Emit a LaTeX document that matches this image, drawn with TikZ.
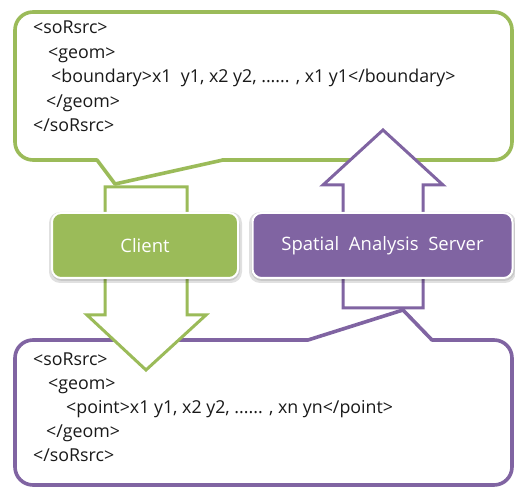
\documentclass[tikz,border=0pt]{standalone}
\usepackage{fontspec}
\setmainfont{Open Sans}
\usetikzlibrary{calc}
\definecolor{olive}{RGB}{155,187,89}
\definecolor{plum}{RGB}{128,100,162}
\definecolor{txt}{RGB}{25,25,25}
\tikzset{
  callout/.style={line width=3.6pt, fill=white, line join=round},
  blockarrow/.style={line width=3pt, fill=white, line join=miter},
  codeline/.style={anchor=base west, inner sep=0pt, text=txt, font=\fontsize{17.8}{20}\selectfont},
  boxnode/.style={draw=white, line width=2pt, rounded corners=9pt, inner sep=0pt,
    text=white, font=\fontsize{18.5}{22}\selectfont},
  boxshadow/.style={fill=black, opacity=0.12, rounded corners=11pt}
}
\begin{document}
\begin{tikzpicture}[x=1pt,y=-1pt]
\useasboundingbox (0,0) rectangle (515,489);
\fill[white] (0,0) rectangle (515,489);

% top callout (green)
\draw[callout, draw=olive]
  (230,160) -- (223,160) -- (115,184) -- (97,160) -- (90,160)
  [rounded corners=18pt] -- (15,160) -- (15,12) -- (512,12) -- (512,160) -- (240,160)
  [sharp corners] -- cycle;
% bottom callout (purple)
\draw[callout, draw=plum]
  (300,340) -- (308,340) -- (403,310) -- (432,340) -- (440,340)
  [rounded corners=18pt] -- (512,340) -- (512,485) -- (15,485) -- (15,340) -- (290,340)
  [sharp corners] -- cycle;

% code text (top)
\node[codeline] (t1) at (33,34) {<soRsrc>};
\node[codeline] (t2) at (48,58.5) {<geom>};
\node[codeline] (t3) at (51,83) {<boundary>x1\ \ y1, x2 y2, ...... , x1 y1</boundary>};
\node[codeline] (t4) at (46,107.5) {</geom>};
\node[codeline] (t5) at (33,132) {</soRsrc>};

% code text (bottom)
\node[codeline] (b1) at (33,366) {<soRsrc>};
\node[codeline] (b2) at (48,390) {<geom>};
\node[codeline] (b3) at (66,414) {<point>x1 y1, x2 y2, ...... , xn yn</point>};
\node[codeline] (b4) at (46,438) {</geom>};
\node[codeline] (b5) at (33,462) {</soRsrc>};

% block arrows
\draw[blockarrow, draw=olive]
  (105,187) -- (187,187) -- (187,315) -- (206,315) -- (146,370) -- (87,315) -- (105,315) -- cycle;
\draw[blockarrow, draw=plum]
  (343,308) -- (423,308) -- (423,185) -- (443,185) -- (383,130) -- (323,185) -- (343,185) -- cycle;

% boxes with shadows
\fill[boxshadow] (49,212) rectangle (242,283);
\fill[boxshadow] (249,212) rectangle (516,283);
\fill[boxshadow, opacity=0.10] (51,214) rectangle (240,281);
\fill[boxshadow, opacity=0.10] (251,214) rectangle (515,281);
\node[boxnode, fill=olive, minimum width=186pt, minimum height=65pt] (client) at (145,245.5) {Client};
\node[boxnode, fill=plum, minimum width=260pt, minimum height=65pt] (server) at (382.5,245.5) {Spatial\ \ Analysis\ \ Server};
\end{tikzpicture}
\end{document}
